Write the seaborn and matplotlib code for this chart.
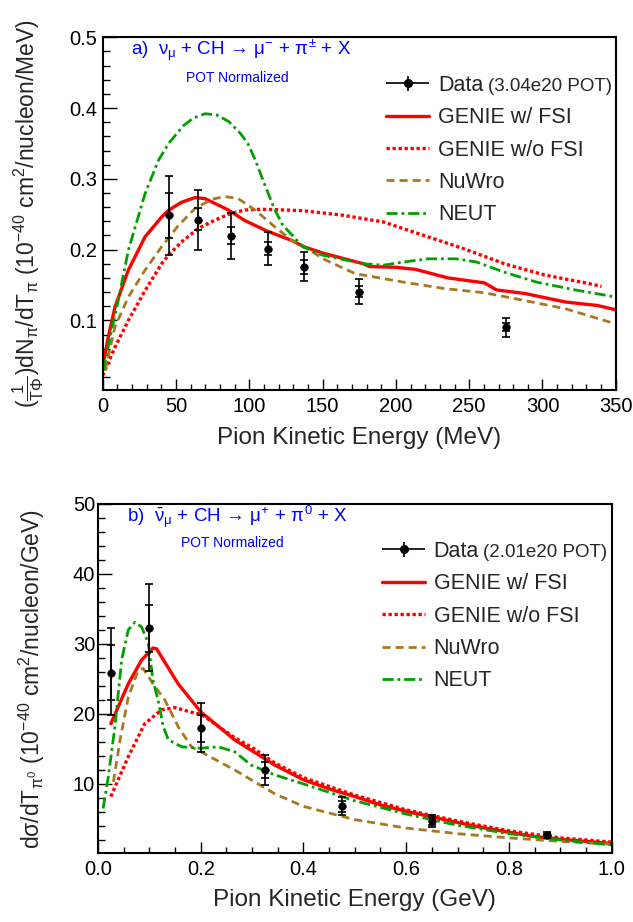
import numpy as np
import pandas as pd
import seaborn as sns
import matplotlib.pyplot as plt
from matplotlib.ticker import MultipleLocator, FormatStrFormatter
from matplotlib.container import ErrorbarContainer
from matplotlib.legend_handler import HandlerErrorbar

# ---------------- panel a) : charged pion, MeV ----------------
a_data_x = [45, 65, 87.5, 112.5, 137.5, 175, 275]
a_data_y = [0.249, 0.242, 0.219, 0.201, 0.176, 0.140, 0.0905]
a_tot_lo = [0.193, 0.200, 0.187, 0.178, 0.155, 0.123, 0.077]
a_tot_hi = [0.304, 0.284, 0.252, 0.225, 0.197, 0.158, 0.104]
a_stat_lo = [0.217, 0.227, 0.208, 0.192, 0.166, 0.133, 0.085]
a_stat_hi = [0.280, 0.259, 0.232, 0.211, 0.186, 0.148, 0.096]

a_fsi_x = [0, 3.8, 8.4, 17.5, 28.9, 40.2, 45.2, 53.9, 63, 69.8, 85.7, 97, 112.3, 128.9,
           137.3, 150.3, 177.8, 182, 200, 213.6, 235.5, 260.4, 268.7, 288, 315.6, 337.5, 350]
a_fsi_y = [0.034, 0.076, 0.119, 0.171, 0.218, 0.246, 0.256, 0.267, 0.2735, 0.272, 0.256, 0.241,
           0.226, 0.213, 0.204, 0.195, 0.180, 0.176, 0.175, 0.172, 0.160, 0.153, 0.143, 0.138,
           0.126, 0.121, 0.115]
a_nofsi_x = [0, 8.4, 17.5, 28.9, 40.2, 45.2, 53.9, 65.3, 77, 87.5, 97, 108.5, 117.2, 136.5,
             164, 191.5, 219, 246.6, 274, 301.7, 329.3, 340.3]
a_nofsi_y = [0.022, 0.062, 0.100, 0.142, 0.180, 0.193, 0.211, 0.230, 0.242, 0.251, 0.256, 0.257,
             0.2565, 0.255, 0.2485, 0.239, 0.220, 0.201, 0.180, 0.164, 0.153, 0.148]
a_nuwro_x = [1.6, 8.4, 17.5, 28.9, 40.2, 51.6, 63, 74.3, 83.4, 92.5, 103.9, 117.5, 129, 137.3,
             150.3, 172.3, 205.4, 233, 260.4, 288, 315.6, 350]
a_nuwro_y = [0.029, 0.091, 0.133, 0.171, 0.204, 0.234, 0.258, 0.271, 0.275, 0.272, 0.256, 0.232,
             0.213, 0.2047, 0.187, 0.166, 0.154, 0.145, 0.139, 0.128, 0.1165, 0.095]
a_neut_x = [0.4, 6.1, 10.6, 17.5, 28.9, 38, 45, 55, 62, 70, 78, 86, 94, 99, 104, 109, 117,
            122.7, 136.5, 150.3, 177.8, 191.5, 205.3, 221.9, 241.1, 254.9, 274.1, 296.1, 323.7, 350]
a_neut_y = [0.029, 0.086, 0.128, 0.199, 0.279, 0.326, 0.350, 0.375, 0.386, 0.392, 0.390, 0.381,
            0.364, 0.350, 0.327, 0.300, 0.258, 0.235, 0.204, 0.192, 0.180, 0.178, 0.1825, 0.187,
            0.187, 0.1825, 0.168, 0.154, 0.1425, 0.133]

# ---------------- panel b) : neutral pion, GeV ----------------
b_data_x = [0.025, 0.1, 0.2, 0.325, 0.475, 0.65, 0.875]
b_data_y = [25.9, 32.3, 18.0, 12.0, 6.8, 4.75, 2.7]
b_tot_lo = [19.8, 26.1, 14.6, 9.8, 5.5, 3.8, 2.3]
b_tot_hi = [32.2, 38.6, 21.5, 14.2, 8.1, 5.6, 3.1]
b_stat_lo = [22.0, 28.9, 16.0, 10.8, 6.0, 4.2, 2.5]
b_stat_hi = [29.9, 35.5, 19.9, 13.2, 7.5, 5.3, 2.9]

b_fsi_x = [0.025, 0.059, 0.085, 0.107, 0.114, 0.156, 0.2, 0.266, 0.344, 0.4, 0.45, 0.5, 0.55,
           0.6, 0.65, 0.7, 0.75, 0.8, 0.85, 0.9, 0.95, 1.0]
b_fsi_y = [18.6, 24.3, 27.7, 29.4, 29.3, 24.3, 20.3, 16.3, 12.7, 10.6, 9.3, 8.2, 7.0, 6.1, 5.3,
           4.5, 3.75, 3.1, 2.5, 2.1, 1.8, 1.5]
b_nofsi_x = [0.025, 0.059, 0.091, 0.124, 0.150, 0.188, 0.2, 0.227, 0.266, 0.3, 0.344, 0.4, 0.5,
             0.6, 0.7, 0.8, 0.9, 1.0]
b_nofsi_y = [8.2, 13.9, 18.6, 20.6, 20.9, 20.1, 20.0, 18.6, 16.6, 15.2, 13.0, 10.9, 8.4, 6.3,
             4.7, 3.3, 2.3, 1.7]
b_nuwro_x = [0.030, 0.043, 0.059, 0.078, 0.088, 0.107, 0.130, 0.156, 0.182, 0.2, 0.266, 0.344,
             0.4, 0.5, 0.6, 0.7, 0.8, 0.9, 1.0]
b_nuwro_y = [10.3, 16.3, 22.4, 26.2, 26.5, 24.3, 22.0, 18.2, 15.3, 14.6, 12.0, 8.6, 6.8, 4.9,
             3.7, 2.9, 2.3, 1.8, 1.4]
b_neut_x = [0.010, 0.020, 0.033, 0.046, 0.059, 0.072, 0.085, 0.098, 0.107, 0.117, 0.127, 0.137,
            0.163, 0.2, 0.234, 0.266, 0.298, 0.344, 0.4, 0.5, 0.6, 0.7, 0.8, 0.9, 1.0]
b_neut_y = [6.5, 11.0, 18.2, 27.7, 32.0, 33.1, 32.4, 30.1, 24.8, 22.0, 18.2, 16.3, 15.3, 15.1,
            15.3, 14.6, 12.7, 11.3, 10.0, 7.6, 5.7, 4.1, 2.9, 2.0, 1.3]

RED = '#ff0000'
BROWN = '#a8781e'
GREEN = '#00a000'

sns.set_style('ticks')
plt.rcParams['font.family'] = ['Liberation Sans', 'DejaVu Sans']
plt.rcParams['mathtext.fontset'] = 'custom'
plt.rcParams['mathtext.rm'] = 'Liberation Sans'
plt.rcParams['mathtext.it'] = 'Liberation Sans'
plt.rcParams['mathtext.bf'] = 'Liberation Sans:bold'
plt.rcParams['mathtext.sf'] = 'Liberation Sans'


def draw_panel(ax, curves, dx, dy, tlo, thi, slo, shi, pot):
    for (cx, cy, color, ls, lw, lab) in curves:
        sns.lineplot(x=cx, y=cy, ax=ax, color=color, linestyle=ls, lw=lw, label=lab,
                     sort=False, estimator=None)
    dx = np.array(dx); dy = np.array(dy)
    ax.errorbar(dx, dy, yerr=[dy - np.array(tlo), np.array(thi) - dy], fmt='none',
                ecolor='black', elinewidth=1.2, capsize=2.6, capthick=1.2, zorder=4)
    ax.errorbar(dx, dy, yerr=[dy - np.array(slo), np.array(shi) - dy], fmt='none',
                ecolor='black', elinewidth=1.2, capsize=2.6, capthick=1.2, zorder=4)
    sns.scatterplot(x=dx, y=dy, ax=ax, color='black', s=30, edgecolor='black', zorder=5,
                    legend=False)
    # legend handle for the data
    ax.errorbar([np.nan], [np.nan], xerr=[1], yerr=[1], fmt='o', color='black', ms=5.5,
                elinewidth=1.2, capsize=0, label='Data')
    handles, labels = ax.get_legend_handles_labels()
    order = [labels.index('Data')] + [i for i, l in enumerate(labels) if l != 'Data']
    leg = ax.legend([handles[i] for i in order], [labels[i] for i in order],
                    loc='upper left', bbox_to_anchor=(0.553, 0.894), frameon=False,
                    borderpad=0, borderaxespad=0, handlelength=2.0, handletextpad=0.4,
                    labelspacing=0.53, fontsize=15.5, numpoints=1,
                    handler_map={ErrorbarContainer: HandlerErrorbar(xerr_size=1.0, yerr_size=0.35)})
    ax.annotate(pot, xy=(1, 0), xycoords=leg.get_texts()[0], xytext=(3, 0.5),
                textcoords='offset points', fontsize=13.5, va='bottom', ha='left', zorder=10)
    ax.tick_params(which='both', direction='in', bottom=True, left=True, top=False, right=False,
                   labelsize=14.5, colors='black')
    ax.tick_params(axis='x', which='major', length=8, width=1.0, pad=4.5)
    ax.tick_params(axis='x', which='minor', length=4, width=1.0)
    ax.tick_params(axis='y', which='major', length=10, width=1.0, pad=4)
    ax.tick_params(axis='y', which='minor', length=5, width=1.0)
    for sp in ax.spines.values():
        sp.set_linewidth(1.5)
        sp.set_color('black')


fig = plt.figure(figsize=(6.33, 9.22), dpi=100)
ax1 = fig.add_axes([0.1622, 0.5765, 0.8106, 0.3831])
ax2 = fig.add_axes([0.1548, 0.0743, 0.8114, 0.3793])

curves_a = [
    (a_fsi_x, a_fsi_y, RED, '-', 2.4, 'GENIE w/ FSI'),
    (a_nofsi_x, a_nofsi_y, RED, (0, (1.0, 0.8)), 2.4, 'GENIE w/o FSI'),
    (a_nuwro_x, a_nuwro_y, BROWN, (0, (2.9, 1.8)), 2.0, 'NuWro'),
    (a_neut_x, a_neut_y, GREEN, (0, (4, 1.4, 1, 1.4)), 2.0, 'NEUT'),
]
curves_b = [
    (b_fsi_x, b_fsi_y, RED, '-', 2.4, 'GENIE w/ FSI'),
    (b_nofsi_x, b_nofsi_y, RED, (0, (1.0, 0.8)), 2.4, 'GENIE w/o FSI'),
    (b_nuwro_x, b_nuwro_y, BROWN, (0, (2.9, 1.8)), 2.0, 'NuWro'),
    (b_neut_x, b_neut_y, GREEN, (0, (4, 1.4, 1, 1.4)), 2.0, 'NEUT'),
]

draw_panel(ax1, curves_a, a_data_x, a_data_y, a_tot_lo, a_tot_hi, a_stat_lo, a_stat_hi,
           '(3.04e20 POT)')
draw_panel(ax2, curves_b, b_data_x, b_data_y, b_tot_lo, b_tot_hi, b_stat_lo, b_stat_hi,
           '(2.01e20 POT)')

ax1.set_xlim(0, 350)
ax1.set_ylim(0.001, 0.5)
ax1.xaxis.set_major_locator(MultipleLocator(50))
ax1.xaxis.set_minor_locator(MultipleLocator(10))
ax1.yaxis.set_major_locator(MultipleLocator(0.1))
ax1.yaxis.set_minor_locator(MultipleLocator(0.02))
ax1.yaxis.set_major_formatter(FormatStrFormatter('%.1f'))
ax1.set_xlabel('Pion Kinetic Energy (MeV)', fontsize=17.5, va='center')
ax1.xaxis.set_label_coords(0.5, -0.1345)
ax1.set_ylabel(r'$(\frac{1}{T\Phi})$dN$_{\pi}$/dT$_{\pi}$ (10$^{-40}$ cm$^{2}$/nucleon/MeV)',
               fontsize=16.5, va='center')
ax1.yaxis.set_label_coords(-0.1456, 0.5)
ax1.text(0.055, 0.964, r'a)  $\nu_{\mu}$ + CH → $\mu^{-}$ + $\pi^{\pm}$ + X',
         transform=ax1.transAxes, color='blue', fontsize=13.5, va='center', ha='left')
ax1.text(0.263, 0.886, 'POT Normalized', transform=ax1.transAxes, color='blue', fontsize=10,
         va='center', ha='center')

ax2.set_xlim(0, 1.0)
ax2.set_ylim(0.07, 50)
ax2.xaxis.set_major_locator(MultipleLocator(0.2))
ax2.xaxis.set_minor_locator(MultipleLocator(0.05))
ax2.xaxis.set_major_formatter(FormatStrFormatter('%.1f'))
ax2.yaxis.set_major_locator(MultipleLocator(10))
ax2.yaxis.set_minor_locator(MultipleLocator(2))
ax2.tick_params(axis='y', which='major', pad=2)
ax2.set_xlabel('Pion Kinetic Energy (GeV)', fontsize=17.5, va='center')
ax2.xaxis.set_label_coords(0.5, -0.134)
ax2.set_ylabel(r'd$\sigma$/dT$_{\pi^{0}}$ (10$^{-40}$ cm$^{2}$/nucleon/GeV)', fontsize=16.5,
               va='center')
ax2.yaxis.set_label_coords(-0.1285, 0.5)
ax2.text(0.056, 0.962, r'b)  $\bar{\nu}_{\mu}$ + CH → $\mu^{+}$ + $\pi^{0}$ + X',
         transform=ax2.transAxes, color='blue', fontsize=13.5, va='center', ha='left')
ax2.text(0.2615, 0.888, 'POT Normalized', transform=ax2.transAxes, color='blue', fontsize=10,
         va='center', ha='center')

plt.savefig('out.png', dpi=100)
